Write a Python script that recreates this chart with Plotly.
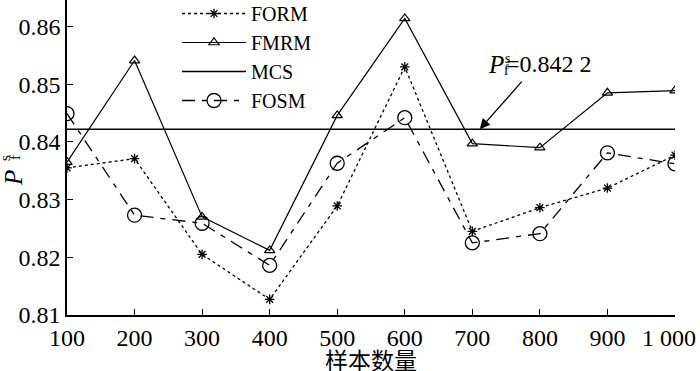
import plotly.graph_objects as go

samples = [100, 200, 300, 400, 500, 600, 700, 800, 900, 1000]
tick_labels = ["100", "200", "300", "400", "500", "600", "700", "800", "900", "1 000\u2002"]
form = [0.8355, 0.8371, 0.8205, 0.8127, 0.8289, 0.8530, 0.8245, 0.8286, 0.8320, 0.8377]
fmrm = [0.8365, 0.8541, 0.8270, 0.8212, 0.8446, 0.8614, 0.8397, 0.8390, 0.8485, 0.8489]
fosm = [0.8449, 0.8273, 0.8259, 0.8186, 0.8363, 0.8442, 0.8225, 0.8241, 0.8381, 0.8362]
mcs_value = 0.8422
mcs_x = [100, 1000]
y_ticks = [0.81, 0.82, 0.83, 0.84, 0.85, 0.86]
y_tick_labels = ["0.81", "0.82", "0.83", "0.84", "0.85", "0.86"]
x_title = "样本数量"

FONT = "Liberation Serif, Times New Roman, serif"
W, H = 700, 371
ML, MR, MT, MB = 67, 25, 0, 56
PW, PH = W - ML - MR, H - MT - MB


def px(xp):
    return (xp - ML) / PW


def py(yp):
    return (PH + MT - yp) / PH


fig = go.Figure()
fig.add_trace(go.Scatter(
    x=samples, y=form, name="FORM", mode="lines+markers",
    line=dict(color="black", width=1.3, dash="3px,3px"),
    marker=dict(symbol="asterisk-open", size=8, color="black", line=dict(width=1.3, color="black")),
))
fig.add_trace(go.Scatter(
    x=samples, y=fmrm, name="FMRM", mode="lines+markers",
    line=dict(color="black", width=1.2),
    marker=dict(symbol="triangle-up-open", size=9, color="black", line=dict(width=1.2, color="black")),
))
fig.add_trace(go.Scatter(
    x=mcs_x, y=[mcs_value, mcs_value], name="MCS", mode="lines",
    line=dict(color="black", width=1.5),
))
fig.add_trace(go.Scatter(
    x=samples, y=fosm, name="FOSM", mode="lines+markers",
    line=dict(color="black", width=1.3, dash="13px,7px,5px,7px"),
    marker=dict(symbol="circle-open", size=14, color="black", line=dict(width=1.3, color="black")),
))

# x-axis title
fig.add_annotation(xref="paper", yref="paper", x=px(371), y=py(359), xanchor="center", yanchor="middle",
                   text=x_title, showarrow=False,
                   font=dict(family="Noto Sans CJK SC", size=23, color="black"))

# y-axis title  P_f^s (rotated)
fig.add_annotation(xref="paper", yref="paper", x=px(13), y=py(178), xanchor="center", yanchor="middle",
                   text="<i>P</i>", showarrow=False, textangle=-90,
                   font=dict(family=FONT, size=25, color="black"))
fig.add_annotation(xref="paper", yref="paper", x=px(5), y=py(158), xanchor="center", yanchor="middle",
                   text="s", showarrow=False, textangle=-90,
                   font=dict(family=FONT, size=15, color="black"))
fig.add_annotation(xref="paper", yref="paper", x=px(15), y=py(158), xanchor="center", yanchor="middle",
                   text="f", showarrow=False, textangle=-90,
                   font=dict(family=FONT, size=15, color="black"))

# MCS value annotation with arrow
fig.add_annotation(
    x=711, y=mcs_value, ax=775, ay=0.8507, axref="x", ayref="y",
    text="", showarrow=True, arrowhead=2, arrowsize=1.6, arrowwidth=1.3, arrowcolor="black",
)
fig.add_annotation(xref="paper", yref="paper", x=px(486), y=py(64), xanchor="left", yanchor="middle",
                   text="<i>P</i>", showarrow=False,
                   font=dict(family=FONT, size=25, color="black"))
fig.add_annotation(xref="paper", yref="paper", x=px(503), y=py(58), xanchor="left", yanchor="middle",
                   text="s", showarrow=False,
                   font=dict(family=FONT, size=14, color="black"))
fig.add_annotation(xref="paper", yref="paper", x=px(502), y=py(71), xanchor="left", yanchor="middle",
                   text="f", showarrow=False,
                   font=dict(family=FONT, size=14, color="black"))
fig.add_annotation(xref="paper", yref="paper", x=px(504), y=py(64), xanchor="left", yanchor="middle",
                   text="=0.842 2", showarrow=False,
                   font=dict(family=FONT, size=24, color="black"))

fig.update_layout(
    width=W, height=H,
    margin=dict(l=ML, r=MR, t=MT, b=MB, autoexpand=False),
    paper_bgcolor="white", plot_bgcolor="white",
    font=dict(family=FONT, size=20, color="black"),
    showlegend=True,
    legend=dict(
        x=px(177), y=py(-6), xanchor="left", yanchor="top",
        bgcolor="rgba(0,0,0,0)", font=dict(family=FONT, size=20, color="black"),
        tracegroupgap=0, itemwidth=64,
    ),
    xaxis=dict(
        range=[100, 1000], tickmode="array", tickvals=samples, ticktext=tick_labels,
        showgrid=False, zeroline=False, showline=True, linecolor="black", linewidth=1.5,
        ticks="inside", ticklen=6, tickcolor="black", tickwidth=1.3,
        tickfont=dict(family=FONT, size=24), ticklabeloverflow="allow", automargin=False,
    ),
    yaxis=dict(
        range=[0.81, 0.81 + PH / 5770], tickmode="array", tickvals=y_ticks, ticktext=y_tick_labels,
        showgrid=False, zeroline=False, showline=True, linecolor="black", linewidth=1.5,
        ticks="inside", ticklen=6, tickcolor="black", tickwidth=1.3,
        tickfont=dict(family=FONT, size=24), automargin=False,
    ),
)

fig.write_html("out.html", config={"displayModeBar": False},
               post_script="document.body.style.margin='0';")
